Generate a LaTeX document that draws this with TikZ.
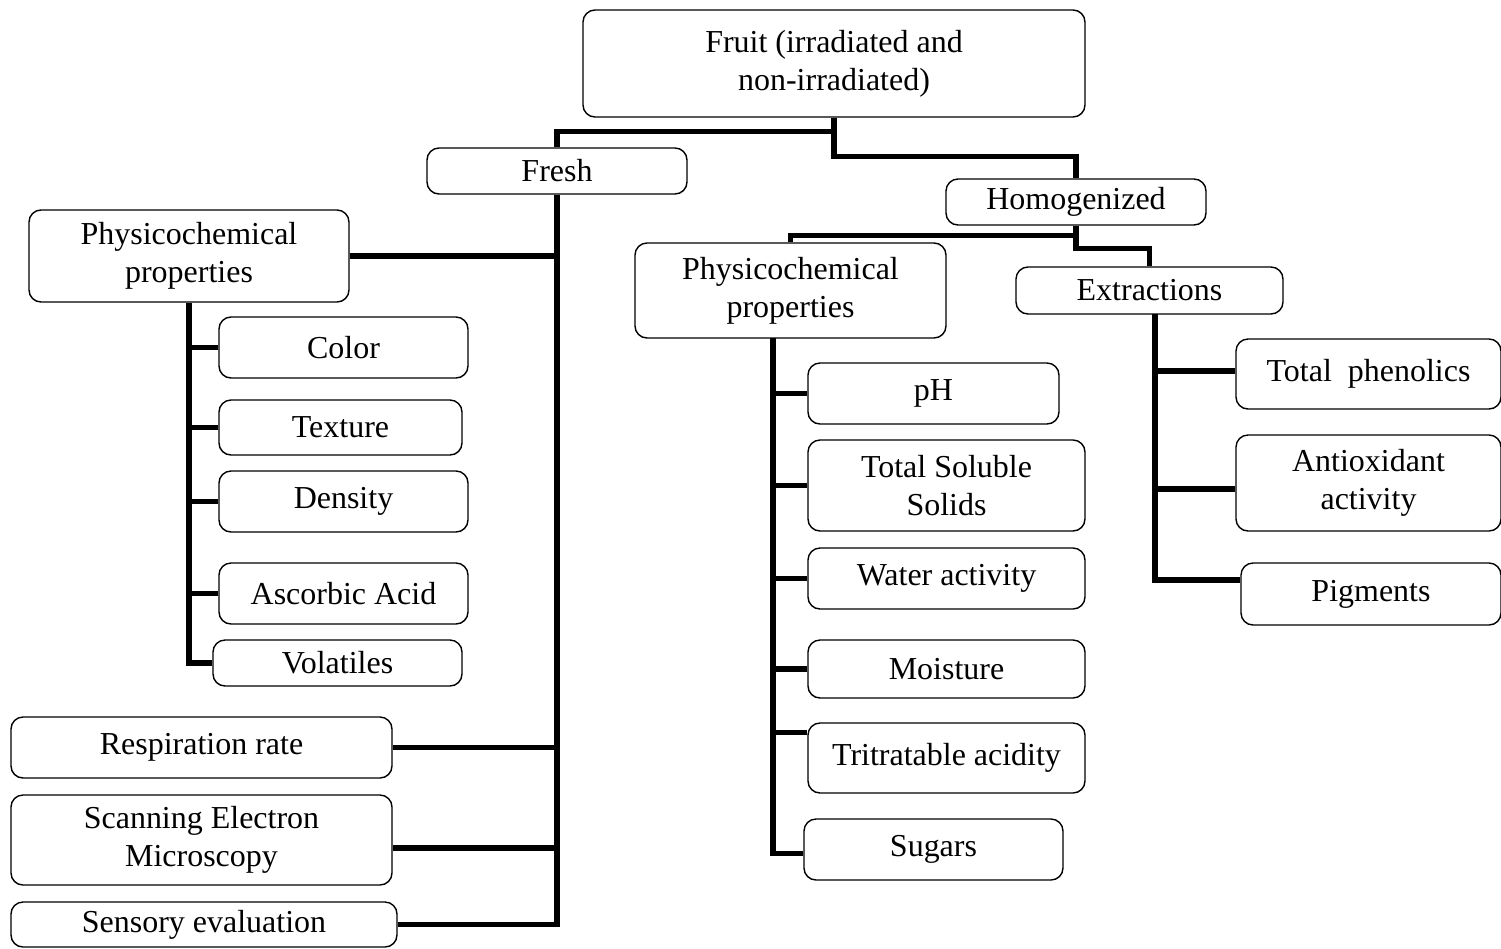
\documentclass[tikz,border=0pt]{standalone}
\usepackage{fontspec}
\setmainfont{Liberation Serif}
\usetikzlibrary{positioning,calc}

\begin{document}
\begin{tikzpicture}[x=0.02cm, y=-0.02cm,
        box/.style={rectangle, rounded corners=0.24cm, draw=black, line width=0.8pt, align=center, inner sep=0pt, fill=white, font=\fontsize{18.2}{21.5}\selectfont},
        sz/.style 2 args={minimum width=#1*0.02cm, minimum height=#2*0.02cm},
        link/.style={line width=3.1pt, black}]

        \useasboundingbox (0,0) rectangle (1501,948);

        % Top level
        \node[box, sz={502}{107}] (FRUIT) at (834,63.5) {Fruit (irradiated and\\non-irradiated)};
        \node[box, sz={260}{46}] (FRESH) at (557,171) {Fresh};
        \node[box, sz={260}{46}] (HOMOG) at (1076,202) {Homogenized};

        % Fresh branch
        \node[box, sz={320}{92}] (PHYSL) at (189,256) {Physicochemical\\properties};
        \node[box, sz={249}{61}] (COLOR) at (343.5,347.5) {Color};
        \node[box, sz={243}{55}] (TEXT) at (340.5,427.5) {Texture};
        \node[box, sz={249}{61}] (DENS) at (343.5,501.5) {Density};
        \node[box, sz={249}{61}] (ASC) at (343.5,593.5) {Ascorbic Acid};
        \node[box, sz={249}{46}] (VOL) at (337.5,663) {Volatiles};
        \node[box, sz={381}{61}] (RESP) at (201.5,747.5) {Respiration rate};
        \node[box, sz={381}{90}] (SEM) at (201.5,840) {Scanning Electron\\Microscopy};
        \node[box, sz={386}{45}] (SENS) at (204,924.5) {Sensory evaluation};

        % Homogenized branch
        \node[box, sz={311}{95}] (PHYSR) at (790.5,290.5) {Physicochemical\\properties};
        \node[box, sz={267}{47}] (EXTR) at (1149.5,290.5) {Extractions};
        \node[box, sz={251}{61}] (PH) at (933.5,393.5) {pH};
        \node[box, sz={277}{91}] (TSS) at (946.5,485.5) {Total Soluble\\Solids};
        \node[box, sz={277}{61}] (WATER) at (946.5,578.5) {Water activity};
        \node[box, sz={277}{58}] (MOIST) at (946.5,669) {Moisture};
        \node[box, sz={277}{70}] (TRIT) at (946.5,758) {Tritratable acidity};
        \node[box, sz={259}{61}] (SUG) at (933.5,849.5) {Sugars};
        \node[box, sz={265}{70}] (PHEN) at (1368.5,374) {Total~ phenolics};
        \node[box, sz={265}{96}] (ANTI) at (1368.5,483) {Antioxidant\\activity};
        \node[box, sz={260}{62}] (PIG) at (1371,594) {Pigments};

        \coordinate (RTRUNK) at (773,338);
        \coordinate (ETRUNK) at (1155,314);

        % Paths
        \draw[link] (FRUIT.south) -- ++(0,14) -| (FRESH.north);
        \draw[link] (FRUIT.south) -- ++(0,39) -| (HOMOG.north);
        \draw[link] (HOMOG.south) -- ++(0,10) -| (PHYSR.north);
        \draw[link] (HOMOG.south) -- ++(0,23) -| (EXTR.north);

        \draw[link] (FRESH.south) |- (SENS.east);
        \foreach \n in {PHYSL,RESP}
            \draw[link] (\n.east) -- (\n.east -| FRESH.south);
        \draw[link] ([yshift=-0.16cm]SEM.east) -- ([yshift=-0.16cm]SEM.east -| FRESH.south);

        \draw[link] (PHYSL.south) |- (VOL.west);
        \foreach \n in {COLOR,TEXT,DENS,ASC}
            \draw[link] (\n.west) -- (\n.west -| PHYSL.south);

        \draw[link] (RTRUNK) |- ([yshift=-0.08cm]SUG.west);
        \foreach \n in {PH,TSS,WATER,MOIST}
            \draw[link] (\n.west) -- (\n.west -| RTRUNK);
        \draw[link] ([yshift=-0.2cm]TRIT.north west) -- ([yshift=-0.2cm]TRIT.north west -| RTRUNK);

        \draw[link] (ETRUNK) |- ([yshift=0.28cm]PIG.west);
        \draw[link] ([yshift=0.06cm]PHEN.west) -- ([yshift=0.06cm]PHEN.west -| ETRUNK);
        \draw[link] ([yshift=-0.12cm]ANTI.west) -- ([yshift=-0.12cm]ANTI.west -| ETRUNK);

    \end{tikzpicture}
\end{document}
